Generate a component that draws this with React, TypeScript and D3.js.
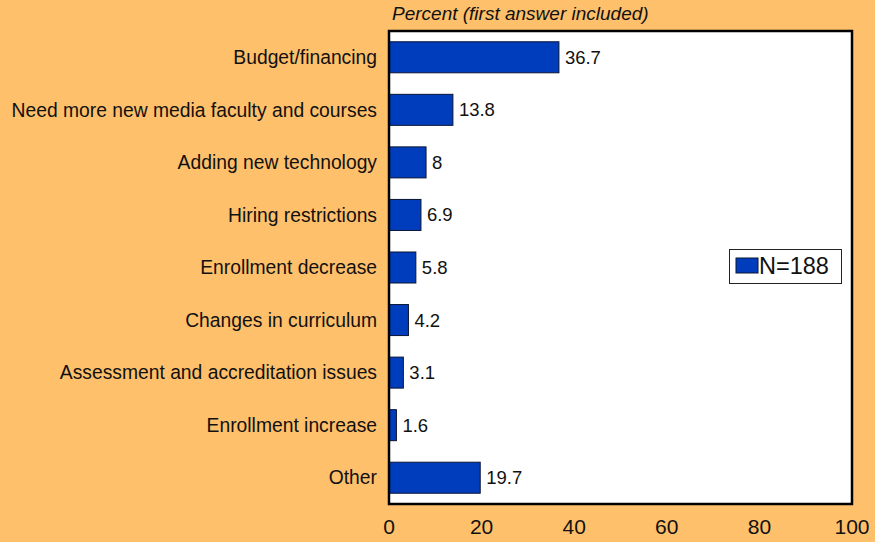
import React from 'react';
import * as d3 from 'd3';

const categories = [
  'Budget/financing',
  'Need more new media faculty and courses',
  'Adding new technology',
  'Hiring restrictions',
  'Enrollment decrease',
  'Changes in curriculum',
  'Assessment and accreditation issues',
  'Enrollment increase',
  'Other',
];
const values = [36.7, 13.8, 8, 6.9, 5.8, 4.2, 3.1, 1.6, 19.7];
const xTicks = [0, 20, 40, 60, 80, 100];
const seriesName = 'N=188';
const axisTitle = 'Percent (first answer included)';

const W = 875;
const H = 542;
const FONT = 'Arial, "Liberation Sans", Helvetica, sans-serif';

const App: React.FC = () => {
  const left = 389;
  const right = 852;
  const top = 31;
  const bottom = 504;

  const x = d3.scaleLinear().domain([0, 100]).range([left, right]);
  const y = d3.scaleBand<string>().domain(categories).range([top, bottom]).paddingInner(0.41).paddingOuter(0.205);

  return (
    <svg width={W} height={H} style={{ position: 'absolute', left: 0, top: 0 }} fontFamily={FONT}>
      <rect x={0} y={0} width={W} height={H} fill="#ffc06b" />
      <text x={392} y={20} fontSize={19} fontStyle="italic" fill="#111">
        {axisTitle}
      </text>
      <rect x={left} y={top} width={right - left} height={bottom - top} fill="#fff" />

      {categories.map((c, i) => (
        <g key={c}>
          <rect
            x={x(0)}
            y={y(c)!}
            width={x(values[i]) - x(0)}
            height={y.bandwidth()}
            fill="#003dbd"
            stroke="#0a1433"
            strokeWidth={1}
          />
          <text x={x(values[i]) + 6} y={y(c)! + y.bandwidth() / 2} dy="0.35em" fontSize={18.5} fill="#111">
            {values[i]}
          </text>
          <text x={left - 12} y={y(c)! + y.bandwidth() / 2} dy="0.35em" fontSize={19.3} textAnchor="end" fill="#111">
            {c}
          </text>
        </g>
      ))}

      <rect x={left} y={top} width={right - left} height={bottom - top} fill="none" stroke="#000" strokeWidth={2.5} />

      {xTicks.map((t) => (
        <text key={t} x={x(t)} y={534} fontSize={21} textAnchor="middle" fill="#111">
          {t}
        </text>
      ))}

      <g>
        <rect x={729.5} y={249.5} width={112} height={34} fill="#fff" stroke="#222" strokeWidth={1} />
        <rect x={736} y={258} width={22} height={15} fill="#003dbd" stroke="#0a1433" strokeWidth={1} />
        <text x={759} y={266} dy="0.35em" fontSize={23.5} fill="#111">
          {seriesName}
        </text>
      </g>
    </svg>
  );
};

export default App;
